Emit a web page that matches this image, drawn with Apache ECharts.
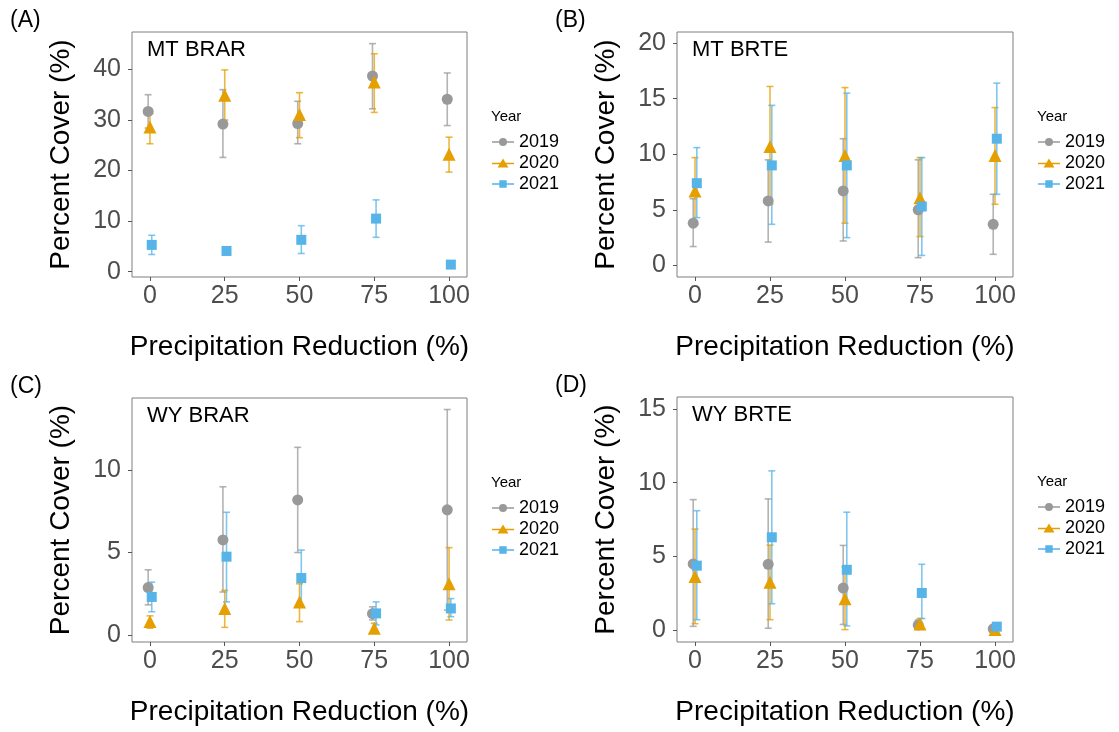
<!DOCTYPE html>
<html>
<head>
<meta charset="utf-8">
<script src="https://cdn.jsdelivr.net/npm/echarts@6/dist/echarts.min.js"></script>
<style>
  html, body { margin: 0; padding: 0; background: #fff; }
  #main { width: 1119px; height: 732px; }
</style>
</head>
<body>
<div id="main"></div>
<script>
// precipitation reduction levels (%)
var xLevels = [0, 25, 50, 75, 100];
var years = ['2019', '2020', '2021'];

// rows: 2019, 2020, 2021
var mtBrarMean = [[31.7, 29.2, 29.3, 38.7, 34.1], [28.6, 34.9, 31.1, 37.5, 23.2], [5.3, 4.1, 6.3, 10.5, 1.4]];
var mtBrarLo   = [[28.4, 22.6, 25.3, 32.2, 28.9], [25.3, 30.0, 26.5, 31.5, 19.7], [3.4, 3.7, 3.6, 6.8, 1.2]];
var mtBrarHi   = [[35.0, 36.0, 33.7, 45.1, 39.3], [31.3, 39.9, 35.4, 43.1, 26.6], [7.2, 4.5, 9.1, 14.2, 1.7]];

var mtBrteMean = [[3.8, 5.8, 6.7, 5.0, 3.7], [6.7, 10.7, 9.9, 6.1, 9.9], [7.4, 9.0, 9.0, 5.3, 11.4]];
var mtBrteLo   = [[1.7, 2.1, 2.2, 0.7, 1.0], [3.7, 5.5, 3.8, 2.6, 5.5], [4.3, 3.7, 2.5, 0.9, 6.4]];
var mtBrteHi   = [[6.0, 9.5, 11.4, 9.5, 6.4], [9.7, 16.1, 16.0, 9.7, 14.2], [10.6, 14.4, 15.5, 9.7, 16.4]];

var wyBrarMean = [[2.87, 5.77, 8.2, 1.28, 7.6], [0.8, 1.6, 2.0, 0.4, 3.1], [2.3, 4.75, 3.45, 1.3, 1.6]];
var wyBrarLo   = [[1.82, 2.6, 5.0, 0.9, 1.5], [0.4, 0.45, 0.8, 0.2, 0.9], [1.4, 2.0, 1.7, 0.6, 1.1]];
var wyBrarHi   = [[3.95, 9.0, 11.4, 1.7, 13.7], [1.15, 2.7, 3.1, 0.7, 5.3], [3.2, 7.45, 5.15, 2.0, 2.2]];

var wyBrteMean = [[4.5, 4.47, 2.86, 0.36, 0.1], [3.65, 3.25, 2.14, 0.43, 0.05], [4.38, 6.3, 4.1, 2.53, 0.25]];
var wyBrteLo   = [[0.27, 0.14, 0.4, 0.15, 0.05], [0.45, 0.72, 0.05, 0.2, 0.02], [0.72, 1.8, 0.3, 0.8, 0.13]];
var wyBrteHi   = [[8.85, 8.9, 5.75, 0.7, 0.15], [6.86, 5.77, 4.3, 0.8, 0.08], [8.1, 10.8, 8.0, 4.47, 0.36]];

var colors = ['#999999', '#E69F00', '#56B4E9'];
var symbols = ['circle', 'triangle', 'rect'];
var symbolSizes = [11, 13, 10];
var dodge = [-0.6, 0, 0.6];
var legendIcons = [
    'path://M0,5.3H22V6.7H0Z M15,6A4,4 0 1 1 7,6A4,4 0 1 1 15,6Z',
    'path://M0,5.3H22V6.7H0Z M11,1L16.5,10H5.5Z',
    'path://M0,5.3H22V6.7H0Z M7.3,2.3H14.7V9.7H7.3Z'
];
var font = 'Liberation Sans, Arial, sans-serif';

var panels = [
    { letter: '(A)', label: 'MT BRAR', mean: mtBrarMean, lo: mtBrarLo, hi: mtBrarHi,
      grid: { left: 132, top: 32, width: 335, height: 245 }, ymin: -1.05, ymax: 47.4, yticks: [0, 10, 20, 30, 40] },
    { letter: '(B)', label: 'MT BRTE', mean: mtBrteMean, lo: mtBrteLo, hi: mtBrteHi,
      grid: { left: 677, top: 32, width: 336, height: 245 }, ymin: -1.04, ymax: 21.0, yticks: [0, 5, 10, 15, 20] },
    { letter: '(C)', label: 'WY BRAR', mean: wyBrarMean, lo: wyBrarLo, hi: wyBrarHi,
      grid: { left: 132, top: 398, width: 335, height: 244 }, ymin: -0.44, ymax: 14.4, yticks: [0, 5, 10] },
    { letter: '(D)', label: 'WY BRTE', mean: wyBrteMean, lo: wyBrteLo, hi: wyBrteHi,
      grid: { left: 677, top: 397, width: 336, height: 245 }, ymin: -0.79, ymax: 15.8, yticks: [0, 5, 10, 15] }
];

function renderErr(params, api) {
    var x = api.value(0);
    var p1 = api.coord([x, api.value(1)]);
    var p2 = api.coord([x, api.value(2)]);
    var w = 3.5;
    var style = { stroke: api.visual('color'), lineWidth: 1.6, opacity: 0.75 };
    return {
        type: 'group',
        children: [
            { type: 'line', shape: { x1: p1[0], y1: p1[1], x2: p2[0], y2: p2[1] }, style: style },
            { type: 'line', shape: { x1: p1[0] - w, y1: p1[1], x2: p1[0] + w, y2: p1[1] }, style: style },
            { type: 'line', shape: { x1: p2[0] - w, y1: p2[1], x2: p2[0] + w, y2: p2[1] }, style: style }
        ]
    };
}

var grids = [], xAxes = [], yAxes = [], series = [], titles = [], legends = [];

panels.forEach(function (p, i) {
    grids.push({ left: p.grid.left, top: p.grid.top, width: p.grid.width, height: p.grid.height,
        show: true, borderColor: '#7f7f7f', borderWidth: 1, backgroundColor: '#fff' });

    xAxes.push({
        gridIndex: i, type: 'value', min: -6, max: 106,
        name: 'Precipitation Reduction (%)', nameLocation: 'middle', nameGap: 56,
        nameTextStyle: { fontSize: 28, color: '#000', fontFamily: font },
        axisLine: { show: false, onZero: false },
        axisTick: { show: true, length: 4, lineStyle: { color: '#555' }, customValues: xLevels },
        axisLabel: { fontSize: 25, color: '#4d4d4d', margin: 7, fontFamily: font, customValues: xLevels },
        splitLine: { show: false }
    });

    yAxes.push({
        gridIndex: i, type: 'value', min: p.ymin, max: p.ymax,
        name: 'Percent Cover (%)', nameLocation: 'middle', nameGap: 57,
        nameTextStyle: { fontSize: 28, color: '#000', fontFamily: font },
        axisLine: { show: false, onZero: false },
        axisTick: { show: true, length: 4, lineStyle: { color: '#555' }, customValues: p.yticks },
        axisLabel: { fontSize: 25, color: '#4d4d4d', margin: 11, fontFamily: font, customValues: p.yticks },
        splitLine: { show: false }
    });

    var lx = p.grid.left + p.grid.width + 24;
    var ly = p.grid.top + 85;
    titles.push({ text: p.letter, left: p.grid.left - 122, top: p.grid.top - 23, padding: 0,
        textStyle: { fontSize: 23, fontWeight: 'normal', color: '#000', fontFamily: font } });
    titles.push({ text: p.label, left: p.grid.left + 15, top: p.grid.top + 7, padding: 0,
        textStyle: { fontSize: 22, fontWeight: 'normal', color: '#000', fontFamily: font } });
    titles.push({ text: 'Year', left: lx, top: ly - 8, padding: 0,
        textStyle: { fontSize: 15, fontWeight: 'normal', color: '#000', fontFamily: font } });

    legends.push({
        orient: 'vertical', left: lx + 1, top: ly + 16, padding: 0,
        itemWidth: 22, itemHeight: 12, itemGap: 3,
        selectedMode: false,
        textStyle: { fontSize: 18, color: '#000', fontFamily: font },
        data: years.map(function (y, k) { return { name: y, icon: legendIcons[k] }; })
    });

    years.forEach(function (y, k) {
        series.push({
            name: y + ' se', type: 'custom', xAxisIndex: i, yAxisIndex: i,
            renderItem: renderErr, z: 1, silent: true,
            itemStyle: { color: colors[k] },
            encode: { x: 0, y: [1, 2] },
            data: xLevels.map(function (x, j) { return [x + dodge[k], p.lo[k][j], p.hi[k][j]]; })
        });
    });
    years.forEach(function (y, k) {
        series.push({
            name: y, type: 'scatter', xAxisIndex: i, yAxisIndex: i, z: 2 + k,
            symbol: symbols[k], symbolSize: symbolSizes[k],
            itemStyle: { color: colors[k], opacity: 1 },
            data: xLevels.map(function (x, j) { return [x + dodge[k], p.mean[k][j]]; })
        });
    });
});

var chart = echarts.init(document.getElementById('main'));
chart.setOption({
    backgroundColor: '#fff',
    animation: false,
    title: titles,
    legend: legends,
    grid: grids,
    xAxis: xAxes,
    yAxis: yAxes,
    series: series
});
</script>
</body>
</html>
